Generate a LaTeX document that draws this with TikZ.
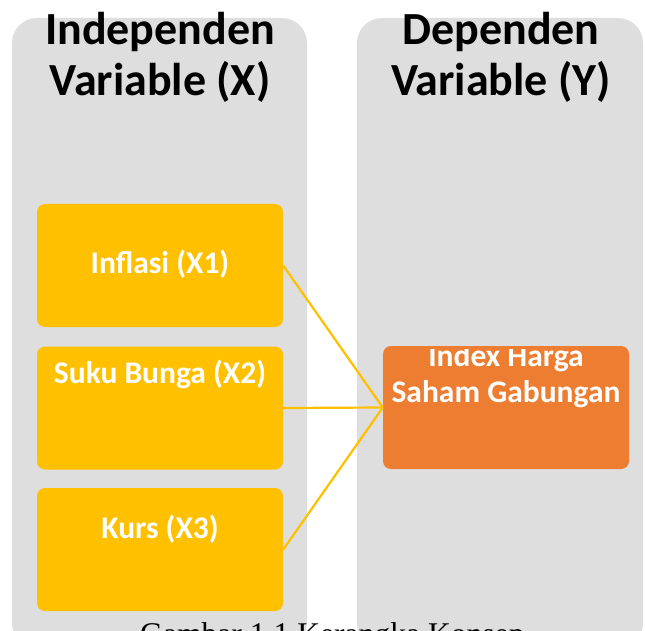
\documentclass[tikz,border=0pt]{standalone}
\usepackage{fontspec}
\setmainfont{Carlito}
\newfontfamily\capfont{Liberation Serif}
\definecolor{panelgrey}{HTML}{DEDEDE}
\definecolor{ygold}{HTML}{FFC000}
\definecolor{oorange}{HTML}{ED7D31}
\tikzset{
  panel/.style={fill=panelgrey, rounded corners=25pt},
  varbox/.style={rectangle, rounded corners=8pt, minimum width=246pt, minimum height=123pt, inner sep=0pt, fill=ygold},
  depbox/.style={varbox, fill=oorange},
  boxtext/.style={text=white, font=\fontsize{31.5}{37}\selectfont\bfseries, inner sep=0pt, anchor=base, align=center},
  titletext/.style={text=black, font=\fontsize{46}{52}\selectfont\bfseries, inner sep=0pt, align=center},
  link/.style={draw=ygold, line width=2.2pt}
}
\begin{document}
\begin{tikzpicture}[x=1pt,y=-1pt]
\useasboundingbox (0,0) rectangle (645,631);
\fill[white] (0,0) rectangle (645,631);
% panels
\path[panel] (12,18) rectangle (307,648);
\path[panel] (357,18) rectangle (643,648);
% titles
\node[titletext, anchor=base] (tx1) at (160,44.5) {Independen};
\node[titletext, anchor=base] (tx2) at (160,95.5) {Variable (X)};
\node[titletext, anchor=base] (ty1) at (501,44.5) {Dependen};
\node[titletext, anchor=base] (ty2) at (501,95.5) {Variable (Y)};
% boxes
\node[varbox] (x1) at (160,265.5) {};
\node[varbox] (x2) at (160,408) {};
\node[varbox] (x3) at (160,549.5) {};
\node[depbox] (y) at (506,407.5) {};
% box texts
\node[boxtext] (lx1) at (160,273.3) {Inflasi (X1)};
\node[boxtext] (lx2) at (160,383.3) {Suku Bunga (X2)};
\node[boxtext] (lx3) at (160,538) {Kurs (X3)};
\begin{scope}
  \clip (383,349) rectangle (629,470);
  \node[boxtext] (ly1) at (506,366) {Index Harga};
\end{scope}
\node[boxtext] (ly2) at (506,402.7) {Saham Gabungan};
% connectors
\draw[link] (x1.east) -- (y.west);
\draw[link] (x2.east) -- (y.west);
\draw[link] (x3.east) -- (y.west);
% caption (cut off by the page edge, as in the reference)
\node[font=\capfont\fontsize{31.6}{36}\selectfont, anchor=base west, inner sep=0pt] (cap) at (140,644) {Gambar 1.1 Kerangka Konsep};
\end{tikzpicture}
\end{document}
